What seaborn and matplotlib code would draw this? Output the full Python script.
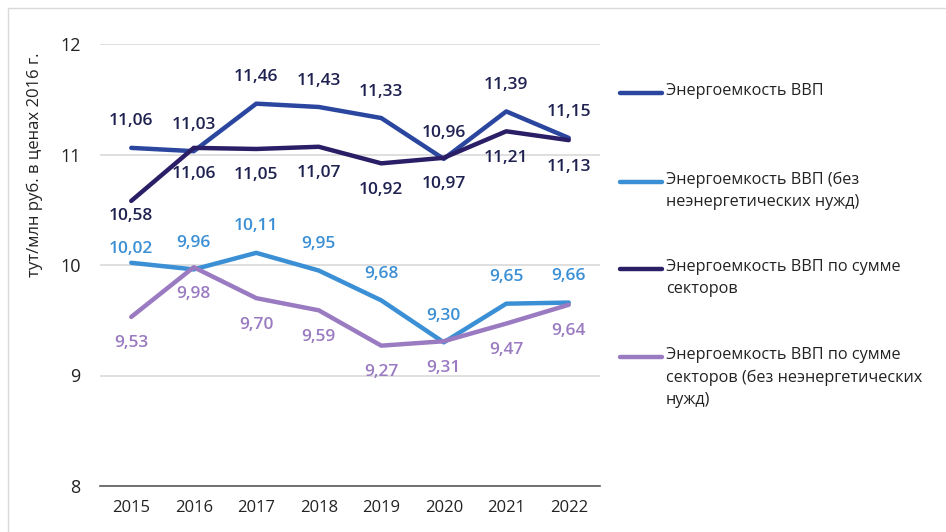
import pandas as pd
import seaborn as sns
import matplotlib.pyplot as plt
from matplotlib.lines import Line2D
from matplotlib.patches import Rectangle

years = ["2015", "2016", "2017", "2018", "2019", "2020", "2021", "2022"]
gdp = [11.06, 11.03, 11.46, 11.43, 11.33, 10.96, 11.39, 11.15]
gdp_no_ne = [10.02, 9.96, 10.11, 9.95, 9.68, 9.30, 9.65, 9.66]
sectors = [10.58, 11.06, 11.05, 11.07, 10.92, 10.97, 11.21, 11.13]
sectors_no_ne = [9.53, 9.98, 9.70, 9.59, 9.27, 9.31, 9.47, 9.64]

names = [
    "Энергоемкость ВВП",
    "Энергоемкость ВВП (без\nнеэнергетических нужд)",
    "Энергоемкость ВВП по сумме\nсекторов",
    "Энергоемкость ВВП по сумме\nсекторов (без неэнергетических\nнужд)",
]
series = [gdp, gdp_no_ne, sectors, sectors_no_ne]
colors = ["#2a469e", "#3b8fd5", "#2a1f66", "#9a7bc1"]
label_colors = ["#1f2250", "#3b8fd5", "#1f2250", "#9a7bc1"]
# label offset in points: positive = above the point
label_offsets = [
    [19] * 8,
    [10] + [19] * 7,
    [-11] + [-19] * 7,
    [-19] * 8,
]

sns.set_theme(style="white")
plt.rcParams["font.family"] = ["Open Sans", "DejaVu Sans"]

df = pd.DataFrame({
    "year": years * 4,
    "value": gdp + gdp_no_ne + sectors + sectors_no_ne,
    "series": [n for n in names for _ in years],
})

fig = plt.figure(figsize=(9.46, 5.32), dpi=100)
ax = fig.add_axes([100 / 946, 1 - 486 / 532, 500 / 946, 442 / 532])

sns.lineplot(data=df, x="year", y="value", hue="series", hue_order=names,
             palette=dict(zip(names, colors)), linewidth=3.2, ax=ax,
             legend=False, sort=False)

ax.set_xlim(-0.5, 7.5)
ax.set_ylim(8, 12)
ax.set_yticks([8, 9, 10, 11, 12])
ax.set_yticklabels(["8", "9", "10", "11", "12"])
ax.yaxis.grid(True, color="#d9d9d9", linewidth=1.2, zorder=0)
ax.set_axisbelow(True)
for s in ["top", "right", "left"]:
    ax.spines[s].set_visible(False)
ax.spines["bottom"].set_color("#595959")
ax.spines["bottom"].set_linewidth(1.2)
ax.set_xlabel("")
ax.set_ylabel("")
ax.tick_params(axis="y", length=0, labelsize=13, pad=14, labelcolor="#222222")
ax.tick_params(axis="x", which="major", length=0, labelsize=12, pad=10, labelcolor="#222222")
ax.set_xticks([i - 0.5 for i in range(len(years) + 1)], minor=True)
ax.tick_params(axis="x", which="minor", length=5, width=1.2, color="#595959", direction="out")

for vals, c, offs in zip(series, label_colors, label_offsets):
    for i, (v, off) in enumerate(zip(vals, offs)):
        ax.annotate(f"{v:.2f}".replace(".", ","), (i, v), xytext=(0, off),
                    textcoords="offset points", ha="center", va="center",
                    fontsize=12.5, fontweight="semibold", color=c)

# y-axis title
fig.text(35 / 946, 1 - 165 / 532, "тут/млн руб. в ценах 2016 г.", rotation=90,
         ha="center", va="center", fontsize=12, color="#222222")

# custom legend
legend_y = [93, 182, 269, 357]
for name, c, y in zip(names, colors, legend_y):
    fy = 1 - y / 532
    fig.add_artist(Line2D([620 / 946, 662 / 946], [fy, fy], color=c, linewidth=3.2,
                          solid_capstyle="round"))
    fig.text(666 / 946, fy + 10 / 532, name, ha="left", va="top", fontsize=11.7,
             color="#222222", linespacing=1.5)

# light outer frame
fig.add_artist(Rectangle((8 / 946, -0.02), 1, 1 - 8 / 532 + 0.02, transform=fig.transFigure,
                         fill=False, edgecolor="#d9d9d9", linewidth=1))

fig.savefig("out.png", dpi=100)
